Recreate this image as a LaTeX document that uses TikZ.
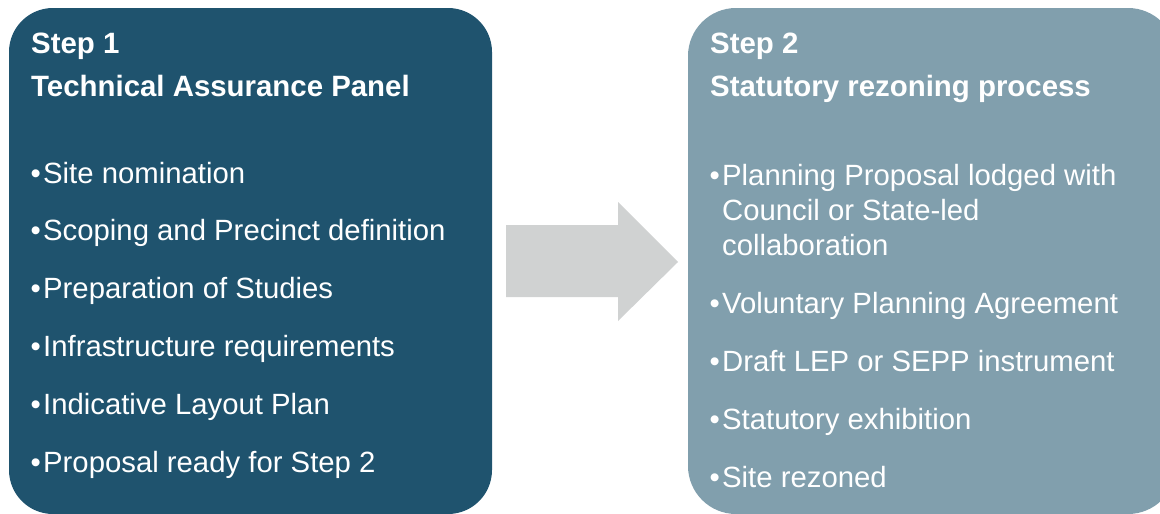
\documentclass[tikz,border=0pt]{standalone}
\usepackage{fontspec}
\setmainfont{Liberation Sans}
\definecolor{darkteal}{HTML}{1F536E}
\definecolor{greyteal}{HTML}{819FAD}
\definecolor{arrowgrey}{HTML}{D0D2D2}
\newcommand{\bul}{\makebox[12.5pt][l]{•}}
\begin{document}
\begin{tikzpicture}[x=1pt,y=-1pt,
  panel/.style={rounded corners=44pt},
  title/.style={anchor=base west,inner sep=0pt,text=white,font=\fontsize{29.4}{35}\selectfont\bfseries},
  item/.style={anchor=base west,inner sep=0pt,text=white,font=\fontsize{29.3}{35}\selectfont}]
\useasboundingbox (0,0) rectangle (1160,514);
\begin{scope}
\clip (0,0) rectangle (1160,514);
\fill[darkteal,panel] (9,8) rectangle (492,514);
\fill[greyteal,rounded corners=48pt] (688,8) rectangle (1176,514);
\end{scope}
% block arrow
\fill[arrowgrey] (506,225) -- (618,225) -- (618,202) -- (678,262) -- (618,321) -- (618,297) -- (506,297) -- cycle;
% Step 1
\node[title] (s1a) at (31,53) {Step 1};
\node[title] (s1b) at (31,96) {Technical Assurance Panel};
\node[item] (l1) at (30.5,183) {\bul Site nomination};
\node[item] (l2) at (30.5,240) {\bul Scoping and Precinct definition};
\node[item] (l3) at (30.5,298) {\bul Preparation of Studies};
\node[item] (l4) at (30.5,356) {\bul Infrastructure requirements};
\node[item] (l5) at (30.5,414) {\bul Indicative Layout Plan};
\node[item] (l6) at (30.5,472) {\bul Proposal ready for Step 2};
% Step 2
\node[title] (s2a) at (710,53) {Step 2};
\node[title] (s2b) at (710,96) {Statutory rezoning process};
\node[item] (r1) at (709.5,185) {\bul Planning Proposal lodged with};
\node[item] (r1b) at (722,220) {Council or State-led};
\node[item] (r1c) at (722,255) {collaboration};
\node[item] (r2) at (709.5,313) {\bul Voluntary Planning Agreement};
\node[item] (r3) at (709.5,371) {\bul Draft LEP or SEPP instrument};
\node[item] (r4) at (709.5,429) {\bul Statutory exhibition};
\node[item] (r5) at (709.5,487) {\bul Site rezoned};
\end{tikzpicture}
\end{document}
